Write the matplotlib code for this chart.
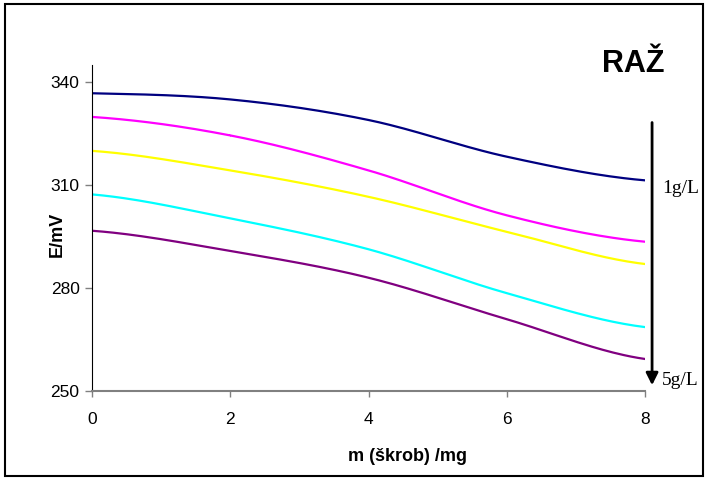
import numpy as np
import matplotlib.pyplot as plt
from matplotlib.patches import Rectangle

# masa škrobu (mg) in potencial za posamezne koncentracije
m = [0, 2, 4, 6, 8]
E_1 = [336.8, 335.0, 329.0, 318.3, 311.4]
E_2 = [329.9, 324.5, 314.3, 301.2, 293.5]
E_3 = [320.0, 314.3, 306.6, 296.4, 287.0]
E_4 = [307.3, 300.3, 291.3, 278.5, 268.6]
E_5 = [296.7, 290.8, 283.0, 270.9, 259.3]
barve = ['#000080', '#ff00ff', '#ffff00', '#00ffff', '#800080']


def gladko(x, y, n=40):
    # Catmull-Rom krivulja skozi tocke (kot glajenje v Excelu)
    x = np.asarray(x, float)
    y = np.asarray(y, float)
    px = np.concatenate([[2 * x[0] - x[1]], x, [2 * x[-1] - x[-2]]])
    py = np.concatenate([[y[0]], y, [y[-1]]])
    xs, ys = [], []
    t = np.linspace(0, 1, n)
    for i in range(1, len(px) - 2):
        for p, out in ((px, xs), (py, ys)):
            p0, p1, p2, p3 = p[i - 1], p[i], p[i + 1], p[i + 2]
            out.extend(0.5 * (2 * p1 + (-p0 + p2) * t
                              + (2 * p0 - 5 * p1 + 4 * p2 - p3) * t ** 2
                              + (-p0 + 3 * p1 - 3 * p2 + p3) * t ** 3))
    return xs, ys


plt.rcParams['font.family'] = ['Liberation Sans', 'DejaVu Sans']
fig = plt.figure(figsize=(7.08, 4.79), dpi=100)
ax = fig.add_axes([0.130, 0.184, 0.781, 0.680])

for E, c in zip([E_1, E_2, E_3, E_4, E_5], barve):
    xs, ys = gladko(m, E)
    ax.plot(xs, ys, color=c, lw=1.6)

ax.set_xlim(0, 8)
ax.set_ylim(250, 345)
ax.set_xticks([0, 2, 4, 6, 8])
ax.set_yticks([250, 280, 310, 340])
ax.tick_params(labelsize=12.5, direction='out', length=5, width=1, colors='#808080',
               labelcolor='black')
ax.tick_params(axis='x', length=4, pad=11)
ax.tick_params(axis='y', pad=4)
ax.spines['top'].set_visible(False)
ax.spines['right'].set_visible(False)
ax.spines['bottom'].set_color('#808080')
ax.spines['left'].set_color('black')
ax.spines['bottom'].set_linewidth(1.5)
ax.set_xlabel('m (škrob) /mg', fontsize=13, fontweight='bold')
ax.set_ylabel('E/mV', fontsize=13, fontweight='bold')
ax.xaxis.set_label_coords(0.57, -0.175)
ax.yaxis.set_label_coords(-0.063, 0.479)
ax.yaxis.label.set_va('center')

fig.text(0.894, 0.866, 'RAŽ', fontsize=22, fontweight='bold', ha='center', va='center')
fig.text(0.935, 0.607, '1g/L', fontsize=14, family=['Liberation Serif'], ha='left', va='center')
fig.text(0.935, 0.205, '5g/L', fontsize=14, family=['Liberation Serif'], ha='left', va='center')
ax.annotate('', xy=(0.921, 0.19), xytext=(0.921, 0.75), xycoords='figure fraction',
            arrowprops=dict(arrowstyle='-|>', color='black', lw=2, mutation_scale=18))

fig.patches.append(Rectangle((0.007, 0.006), 0.986, 0.985, transform=fig.transFigure,
                             fill=False, edgecolor='black', lw=1.5))

plt.savefig('out.png', dpi=100)
